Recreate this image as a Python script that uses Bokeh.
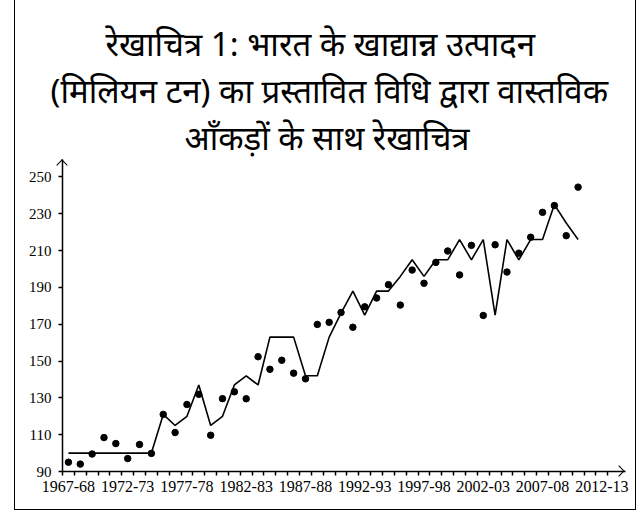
from bokeh.plotting import figure
from bokeh.models import Title, FixedTicker, ColumnDataSource, InlineStyleSheet
from bokeh.embed import file_html
from bokeh.resources import INLINE

seasons = ["1967-68", "1968-69", "1969-70", "1970-71", "1971-72", "1972-73",
           "1973-74", "1974-75", "1975-76", "1976-77", "1977-78", "1978-79",
           "1979-80", "1980-81", "1981-82", "1982-83", "1983-84", "1984-85",
           "1985-86", "1986-87", "1987-88", "1988-89", "1989-90", "1990-91",
           "1991-92", "1992-93", "1993-94", "1994-95", "1995-96", "1996-97",
           "1997-98", "1998-99", "1999-00", "2000-01", "2001-02", "2002-03",
           "2003-04", "2004-05", "2005-06", "2006-07", "2007-08", "2008-09",
           "2009-10", "2010-11"]

actual = [95.05, 94.01, 99.5, 108.42, 105.17, 97.03, 104.67, 99.83, 121.03,
          111.17, 126.41, 131.9, 109.7, 129.59, 133.3, 129.52, 152.37, 145.54,
          150.44, 143.42, 140.35, 169.92, 171.04, 176.39, 168.38, 179.48,
          184.26, 191.5, 180.42, 199.44, 192.26, 203.61, 209.8, 196.81, 212.85,
          174.77, 213.19, 198.36, 208.6, 217.28, 230.78, 234.47, 218.11, 244.49]

proposed = [100, 100, 100, 100, 100, 100, 100, 100, 121, 115, 120, 137, 115,
            120, 137, 142, 137, 163, 163, 163, 142, 142, 163, 176, 188, 175,
            188, 188, 196, 205, 196, 205, 205, 216, 205, 216, 175, 216, 205,
            216, 216, 235, 225, 216]

tick_positions = [0, 5, 10, 15, 20, 25, 30, 35, 40, 45]
tick_labels = ["1967-68", "1972-73", "1977-78", "1982-83", "1987-88",
               "1992-93", "1997-98", "2002-03", "2007-08", "2012-13"]
y_ticks = [90, 110, 130, 150, 170, 190, 210, 230, 250]

title_lines = ["रेखाचित्र 1: भारत के खाद्यान्न उत्पादन",
               "(मिलियन टन) का प्रस्तावित विधि द्वारा वास्तविक",
               "आँकड़ों के साथ रेखाचित्र"]
title_offsets = [43, -12, 122]

idx = list(range(len(seasons)))
src = ColumnDataSource(data=dict(x=idx, season=seasons, actual=actual, proposed=proposed))

# open arrowheads at the ends of both axes (decoration, drawn as CSS chevrons
# over the canvas because Bokeh clips annotations to the plot frame)
arrow_css = InlineStyleSheet(css="""
:host::before, :host::after {
  content: ""; position: absolute; box-sizing: border-box;
  width: 8px; height: 8px; z-index: 10; pointer-events: none;
  transform: rotate(45deg);
}
:host::before {
  left: 43px; top: 160.7px;
  border-top: 1.5px solid black; border-left: 1.5px solid black;
}
:host::after {
  left: 600.3px; top: 467px;
  border-top: 1.5px solid black; border-right: 1.5px solid black;
}
""")

p = figure(width=622, height=510, x_range=(-0.5, 47), y_range=(90, 259.5),
           output_backend="svg", toolbar_location=None, title=None,
           min_border_left=47, min_border_right=12, min_border_bottom=39,
           min_border_top=159,
           styles={"margin-left": "13.5px", "border-left": "1.5px solid black",
                   "border-right": "1.5px solid black",
                   "border-bottom": "1.5px solid black",
                   "position": "relative"},
           stylesheets=[arrow_css])
p.outline_line_color = None
p.xgrid.visible = False
p.ygrid.visible = False
p.background_fill_color = "white"
p.border_fill_color = "white"

for line, off in reversed(list(zip(title_lines, title_offsets))):
    p.add_layout(Title(text=line, align="left", offset=off, text_font="Noto Sans",
                       text_font_size="33px", text_font_style="normal",
                       text_color="black", standoff=0), "above")

p.line("x", "proposed", source=src, line_color="black", line_width=1.6)
p.scatter("x", "actual", source=src, size=6.5, fill_color="black", line_color="black")

xa = p.xaxis[0]
xa.ticker = FixedTicker(ticks=tick_positions,
                        minor_ticks=[i - 0.5 for i in range(47)])
xa.major_label_overrides = {t: l for t, l in zip(tick_positions, tick_labels)}
xa.major_tick_line_color = None
xa.major_tick_out = 4
xa.major_tick_in = 0
xa.minor_tick_out = 4
xa.minor_tick_in = 0
xa.minor_tick_line_color = "black"
xa.minor_tick_line_width = 1.5
xa.axis_line_width = 1.5
xa.axis_line_color = "black"
xa.major_label_text_font = "Liberation Serif"
xa.major_label_text_font_size = "16px"
xa.major_label_text_color = "black"
xa.major_label_standoff = 5

ya = p.yaxis[0]
ya.ticker = FixedTicker(ticks=y_ticks, minor_ticks=[])
ya.major_tick_out = 4
ya.major_tick_in = 0
ya.major_tick_line_width = 1.5
ya.major_tick_line_color = "black"
ya.axis_line_width = 1.5
ya.axis_line_color = "black"
ya.major_label_text_font = "Liberation Serif"
ya.major_label_text_font_size = "15px"
ya.major_label_text_color = "black"
ya.major_label_standoff = 7

open("out.html", "w").write(file_html(p, INLINE))
